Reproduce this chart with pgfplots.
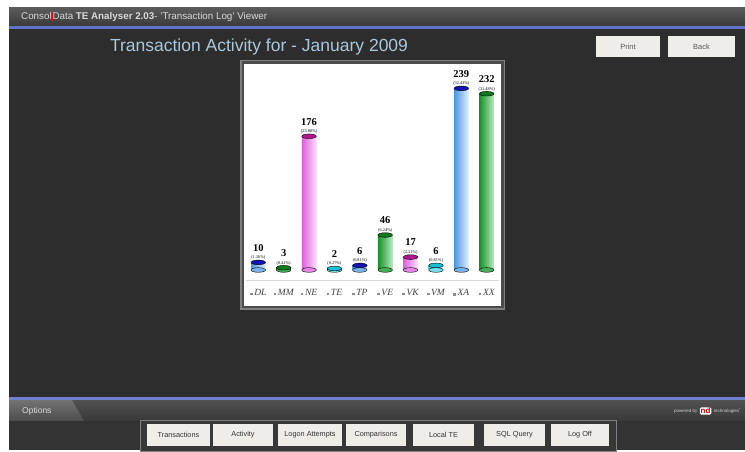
\documentclass[border=0pt]{standalone}
\usepackage{fontspec}
\setmainfont{Liberation Sans}
\newfontfamily\serif{Liberation Serif}
\usepackage{pgfplots}
\pgfplotsset{compat=1.18}
\definecolor{winbg}{HTML}{2D2D2D}
\definecolor{tbA}{HTML}{5A5A5A}
\definecolor{tbB}{HTML}{3A3A3A}
\definecolor{bline}{HTML}{5F72C8}
\definecolor{titlec}{HTML}{A9C8DC}
\definecolor{btn}{HTML}{EEEDE8}
\definecolor{bluebody}{HTML}{4A96E4}
\definecolor{bluelight}{HTML}{E2F0FD}
\definecolor{bluetop}{HTML}{1414B4}
\definecolor{greenbody}{HTML}{16922A}
\definecolor{greenlight}{HTML}{B8EBBE}
\definecolor{greentop}{HTML}{0E7A1E}
\definecolor{pinkbody}{HTML}{DC5EDC}
\definecolor{pinklight}{HTML}{FBE0FB}
\definecolor{pinktop}{HTML}{B0188E}
\definecolor{cyanbody}{HTML}{48D4E6}
\definecolor{cyanlight}{HTML}{E0FAFD}
\definecolor{cyantop}{HTML}{18C0D4}
\newcommand{\sq}{{\color{black!45}\rule{2.6pt}{2.6pt}}\,}
\newcommand{\tl}[1]{{\serif\itshape\sq #1}}
\pgfplotsset{
  cyl/.style 2 args={ybar, bar shift=0pt, bar width=14.5pt, draw=none,
    left color=#1, middle color=#1!55!#2, right color=#2,
    point meta=explicit symbolic,
    visualization depends on={rawy \as \rawy},
    nodes near coords={\textbf{\pgfmathprintnumber[fixed,precision=0,assume math mode=true]{\rawy}}\\[-3pt]{\fontsize{4.3}{4.5}\selectfont(\pgfplotspointmeta\%)}},
    every node near coord/.style={align=center, anchor=south, inner sep=0pt, yshift=2.5pt,
      font=\serif\fontsize{10.5}{10.5}\selectfont, text=black}},
  topell/.style={only marks, mark=*, mark size=7.25pt,
    mark options={yscale=0.32, fill=#1, draw=none}},
}
\begin{document}
\begin{tikzpicture}[x=1pt,y=1pt]
\fill[white] (0,0) rectangle (745,-450);
\fill[winbg] (9,-8) rectangle (745,-450);
\shade[top color=tbA,bottom color=tbB] (9,-8) rectangle (745,-26);
\fill[bline] (9,-26) rectangle (745,-29);
\node[anchor=west,font=\fontsize{9.8}{11}\selectfont,text=white!85!black,inner sep=0pt] at (21,-17)
  {Consol{\color{red}\rule[-1pt]{0.8pt}{8pt}}Data \textbf{TE Analyser 2.03}- 'Transaction Log' Viewer};
\node[font=\fontsize{17.5}{19}\selectfont,text=titlec,inner sep=0pt] at (259,-47) {Transaction Activity for - January 2009};
% print / back
\fill[btn] (596,-36) rectangle (660,-57);
\fill[btn] (668,-36) rectangle (735,-57);
\node[font=\fontsize{7.5}{8}\selectfont,text=black!65] at (628,-46.5) {Print};
\node[font=\fontsize{7.5}{8}\selectfont,text=black!65] at (701.5,-46.5) {Back};
% chart panel
\fill[black!50] (240,-60) rectangle (505,-310);
\fill[black!70] (241.5,-61.5) rectangle (503.5,-308.5);
\fill[white] (244,-64) rectangle (501,-306);
% bottom area
\fill[bline!90!white] (9,-397) rectangle (745,-400);
\shade[top color=black!68,bottom color=black!78] (9,-400) rectangle (745,-421);
\shade[top color=black!55,bottom color=black!70] (9,-400) -- (72,-400) -- (84,-421) -- (9,-421) -- cycle;
\node[anchor=west,font=\fontsize{8.5}{9}\selectfont,text=white!85!black,inner sep=0pt] at (22,-411) {Options};
\node[anchor=east,font=\fontsize{4.5}{5}\selectfont,text=white!80!black,inner sep=0pt] at (741,-411)
  {powered by \;\tikz[baseline=-1.5pt]\node[fill=white,rounded corners=1.5pt,inner sep=0.8pt,font=\fontsize{8}{8}\selectfont\bfseries,text=red!75!black]{nd};\; technologies\textsuperscript{*}};
\fill[black!80] (9,-421) rectangle (745,-450);
\draw[black!50,line width=1pt,fill=black!78] (140,-420.5) rectangle (616,-451);
\foreach \a/\b/\t in {147/210/Transactions,213/273/Activity,278/342/Logon Attempts,346/406/Comparisons,413/474/Local TE,484/545/SQL Query,551/609/Log Off}{
  \fill[btn] (\a,-424) rectangle (\b,-446);
  \node[font=\fontsize{7.3}{8}\selectfont,text=black!80,inner sep=0pt] at ({(\a+\b)/2},-435) {\t};
}
\coordinate (AX) at (245.6,-280.7);
\begin{axis}[at={(AX)}, anchor=south west, scale only axis,
  width=253.8pt, height=218.7pt,
  xmin=-0.5, xmax=9.5, ymin=-14.1, ymax=273.7,
  axis y line=none, axis x line=bottom,
  x axis line style={draw=black!15, line width=1.2pt, -},
  xtick={0,...,9},
  xticklabels={\tl{DL},\tl{MM},\tl{NE},\tl{TE},\tl{TP},\tl{VE},\tl{VK},\tl{VM},\tl{XA},\tl{XX}},
  major tick length=0pt,
  xticklabel style={font=\fontsize{9.5}{10}\selectfont, text=black!75, yshift=-5pt},
  clip=false]
% bottom ellipses
\addplot[topell=bluebody!70!bluelight] coordinates {(0,0) (4,0) (8,0)};
\addplot[topell=greenbody!70!greenlight] coordinates {(1,0) (5,0) (9,0)};
\addplot[topell=pinkbody!70!pinklight] coordinates {(2,0) (6,0)};
\addplot[topell=cyanbody!70!cyanlight] coordinates {(3,0) (7,0)};
% bars (one plot per bar so each is shaded on its own)
\addplot[cyl={bluebody}{bluelight}] coordinates {(0,10) [1.36]};
\addplot[cyl={greenbody}{greenlight}] coordinates {(1,3) [0.41]};
\addplot[cyl={pinkbody}{pinklight}] coordinates {(2,176) [23.88]};
\addplot[cyl={cyanbody}{cyanlight}] coordinates {(3,2) [0.27]};
\addplot[cyl={bluebody}{bluelight}] coordinates {(4,6) [0.81]};
\addplot[cyl={greenbody}{greenlight}] coordinates {(5,46) [6.24]};
\addplot[cyl={pinkbody}{pinklight}] coordinates {(6,17) [2.31]};
\addplot[cyl={cyanbody}{cyanlight}] coordinates {(7,6) [0.81]};
\addplot[cyl={bluebody}{bluelight}] coordinates {(8,239) [32.43]};
\addplot[cyl={greenbody}{greenlight}] coordinates {(9,232) [31.48]};
% top ellipses
\addplot[topell=bluetop] coordinates {(0,10) (4,6) (8,239)};
\addplot[topell=greentop] coordinates {(1,3) (5,46) (9,232)};
\addplot[topell=pinktop] coordinates {(2,176) (6,17)};
\addplot[topell=cyantop] coordinates {(3,2) (7,6)};
\end{axis}
\end{tikzpicture}
\end{document}
